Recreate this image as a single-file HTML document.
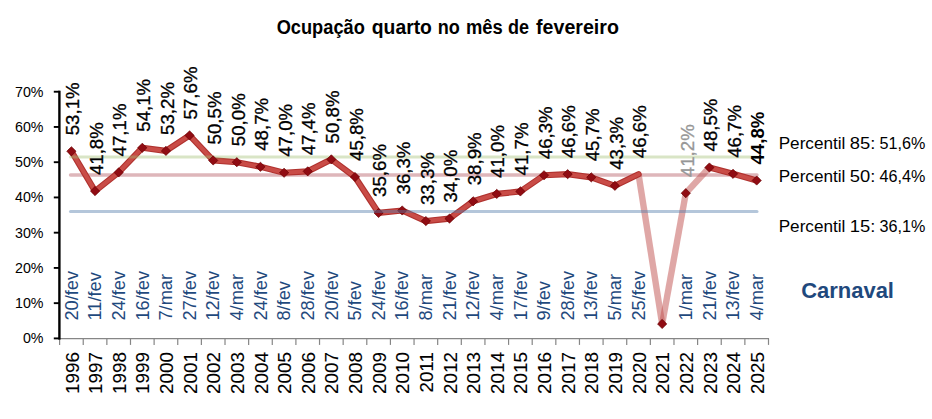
<!DOCTYPE html>
<html><head><meta charset="utf-8"><title>Ocupação quarto no mês de fevereiro</title>
<style>html,body{margin:0;padding:0;background:#fff;}body{width:932px;height:419px;overflow:hidden;}svg{display:block;} text{font-family:"Liberation Sans", sans-serif;}</style>
</head><body>
<svg width="932" height="419" viewBox="0 0 932 419">
<rect x="0" y="0" width="932" height="419" fill="#fff"/>
<text x="320.75" y="33.9" text-anchor="middle" font-size="19.4" font-weight="bold" fill="#000" textLength="88.10" lengthAdjust="spacingAndGlyphs">Ocupação</text>
<text x="401.85" y="33.9" text-anchor="middle" font-size="19.4" font-weight="bold" fill="#000" textLength="60.10" lengthAdjust="spacingAndGlyphs">quarto</text>
<text x="448.85" y="33.9" text-anchor="middle" font-size="19.4" font-weight="bold" fill="#000" textLength="22.10" lengthAdjust="spacingAndGlyphs">no</text>
<text x="484.40" y="33.9" text-anchor="middle" font-size="19.4" font-weight="bold" fill="#000" textLength="36.80" lengthAdjust="spacingAndGlyphs">mês</text>
<text x="518.40" y="33.9" text-anchor="middle" font-size="19.4" font-weight="bold" fill="#000" textLength="21.00" lengthAdjust="spacingAndGlyphs">de</text>
<text x="577.50" y="33.9" text-anchor="middle" font-size="19.4" font-weight="bold" fill="#000" textLength="82.80" lengthAdjust="spacingAndGlyphs">fevereiro</text>
<line x1="59.6" y1="338.60" x2="769.00" y2="338.60" stroke="#868686" stroke-width="1.2"/>
<line x1="59.60" y1="338.40" x2="59.60" y2="344.90" stroke="#868686" stroke-width="1.2"/>
<line x1="83.23" y1="338.40" x2="83.23" y2="344.90" stroke="#868686" stroke-width="1.2"/>
<line x1="106.86" y1="338.40" x2="106.86" y2="344.90" stroke="#868686" stroke-width="1.2"/>
<line x1="130.49" y1="338.40" x2="130.49" y2="344.90" stroke="#868686" stroke-width="1.2"/>
<line x1="154.12" y1="338.40" x2="154.12" y2="344.90" stroke="#868686" stroke-width="1.2"/>
<line x1="177.75" y1="338.40" x2="177.75" y2="344.90" stroke="#868686" stroke-width="1.2"/>
<line x1="201.38" y1="338.40" x2="201.38" y2="344.90" stroke="#868686" stroke-width="1.2"/>
<line x1="225.01" y1="338.40" x2="225.01" y2="344.90" stroke="#868686" stroke-width="1.2"/>
<line x1="248.64" y1="338.40" x2="248.64" y2="344.90" stroke="#868686" stroke-width="1.2"/>
<line x1="272.27" y1="338.40" x2="272.27" y2="344.90" stroke="#868686" stroke-width="1.2"/>
<line x1="295.90" y1="338.40" x2="295.90" y2="344.90" stroke="#868686" stroke-width="1.2"/>
<line x1="319.53" y1="338.40" x2="319.53" y2="344.90" stroke="#868686" stroke-width="1.2"/>
<line x1="343.16" y1="338.40" x2="343.16" y2="344.90" stroke="#868686" stroke-width="1.2"/>
<line x1="366.79" y1="338.40" x2="366.79" y2="344.90" stroke="#868686" stroke-width="1.2"/>
<line x1="390.42" y1="338.40" x2="390.42" y2="344.90" stroke="#868686" stroke-width="1.2"/>
<line x1="414.05" y1="338.40" x2="414.05" y2="344.90" stroke="#868686" stroke-width="1.2"/>
<line x1="437.68" y1="338.40" x2="437.68" y2="344.90" stroke="#868686" stroke-width="1.2"/>
<line x1="461.31" y1="338.40" x2="461.31" y2="344.90" stroke="#868686" stroke-width="1.2"/>
<line x1="484.94" y1="338.40" x2="484.94" y2="344.90" stroke="#868686" stroke-width="1.2"/>
<line x1="508.57" y1="338.40" x2="508.57" y2="344.90" stroke="#868686" stroke-width="1.2"/>
<line x1="532.20" y1="338.40" x2="532.20" y2="344.90" stroke="#868686" stroke-width="1.2"/>
<line x1="555.83" y1="338.40" x2="555.83" y2="344.90" stroke="#868686" stroke-width="1.2"/>
<line x1="579.46" y1="338.40" x2="579.46" y2="344.90" stroke="#868686" stroke-width="1.2"/>
<line x1="603.09" y1="338.40" x2="603.09" y2="344.90" stroke="#868686" stroke-width="1.2"/>
<line x1="626.72" y1="338.40" x2="626.72" y2="344.90" stroke="#868686" stroke-width="1.2"/>
<line x1="650.35" y1="338.40" x2="650.35" y2="344.90" stroke="#868686" stroke-width="1.2"/>
<line x1="673.98" y1="338.40" x2="673.98" y2="344.90" stroke="#868686" stroke-width="1.2"/>
<line x1="697.61" y1="338.40" x2="697.61" y2="344.90" stroke="#868686" stroke-width="1.2"/>
<line x1="721.24" y1="338.40" x2="721.24" y2="344.90" stroke="#868686" stroke-width="1.2"/>
<line x1="744.87" y1="338.40" x2="744.87" y2="344.90" stroke="#868686" stroke-width="1.2"/>
<line x1="768.50" y1="338.40" x2="768.50" y2="344.90" stroke="#868686" stroke-width="1.2"/>
<line x1="59.40" y1="90.7" x2="59.40" y2="339.6" stroke="#000" stroke-width="2.4"/>
<line x1="53.8" y1="338.40" x2="59.60" y2="338.40" stroke="#000" stroke-width="1.9"/>
<text transform="translate(43.5,343.40) scale(0.95,1)" text-anchor="end" font-size="15.0" fill="#000">0%</text>
<line x1="53.8" y1="303.16" x2="59.60" y2="303.16" stroke="#000" stroke-width="1.9"/>
<text transform="translate(43.5,308.16) scale(0.95,1)" text-anchor="end" font-size="15.0" fill="#000">10%</text>
<line x1="53.8" y1="267.92" x2="59.60" y2="267.92" stroke="#000" stroke-width="1.9"/>
<text transform="translate(43.5,272.92) scale(0.95,1)" text-anchor="end" font-size="15.0" fill="#000">20%</text>
<line x1="53.8" y1="232.68" x2="59.60" y2="232.68" stroke="#000" stroke-width="1.9"/>
<text transform="translate(43.5,237.68) scale(0.95,1)" text-anchor="end" font-size="15.0" fill="#000">30%</text>
<line x1="53.8" y1="197.44" x2="59.60" y2="197.44" stroke="#000" stroke-width="1.9"/>
<text transform="translate(43.5,202.44) scale(0.95,1)" text-anchor="end" font-size="15.0" fill="#000">40%</text>
<line x1="53.8" y1="162.20" x2="59.60" y2="162.20" stroke="#000" stroke-width="1.9"/>
<text transform="translate(43.5,167.20) scale(0.95,1)" text-anchor="end" font-size="15.0" fill="#000">50%</text>
<line x1="53.8" y1="126.96" x2="59.60" y2="126.96" stroke="#000" stroke-width="1.9"/>
<text transform="translate(43.5,131.96) scale(0.95,1)" text-anchor="end" font-size="15.0" fill="#000">60%</text>
<line x1="53.8" y1="91.72" x2="59.60" y2="91.72" stroke="#000" stroke-width="1.9"/>
<text transform="translate(43.5,96.72) scale(0.95,1)" text-anchor="end" font-size="15.0" fill="#000">70%</text>
<line x1="638.53" y1="174.18" x2="662.16" y2="323.95" stroke="rgba(192,80,77,0.5)" stroke-width="6.4"/>
<line x1="662.16" y1="323.95" x2="685.79" y2="193.21" stroke="rgba(192,80,77,0.5)" stroke-width="6.4"/>
<line x1="685.79" y1="193.21" x2="709.42" y2="167.49" stroke="rgba(192,80,77,0.5)" stroke-width="6.4"/>
<line x1="70.5" y1="174.99" x2="757.0" y2="174.99" stroke="rgba(176,82,90,0.42)" stroke-width="3.4" stroke-linecap="round"/>
<polyline points="71.42,151.28 95.05,191.10 118.67,172.42 142.31,147.75 165.94,150.92 189.56,135.42 213.19,160.44 236.82,162.20 260.45,166.78 284.08,172.77 307.71,171.36 331.35,159.38 354.98,177.00 378.61,212.95 402.24,210.48 425.87,221.05 449.50,218.58 473.12,201.32 496.75,193.92 520.38,191.45 544.01,175.24 567.64,174.18 591.27,177.35 614.90,185.81 638.53,174.18" fill="none" stroke="#b0322f" stroke-width="6.2" stroke-linejoin="round" stroke-linecap="round"/>
<polyline points="71.42,151.28 95.05,191.10 118.67,172.42 142.31,147.75 165.94,150.92 189.56,135.42 213.19,160.44 236.82,162.20 260.45,166.78 284.08,172.77 307.71,171.36 331.35,159.38 354.98,177.00 378.61,212.95 402.24,210.48 425.87,221.05 449.50,218.58 473.12,201.32 496.75,193.92 520.38,191.45 544.01,175.24 567.64,174.18 591.27,177.35 614.90,185.81 638.53,174.18" fill="none" stroke="#c94c47" stroke-width="4.0" stroke-linejoin="round" stroke-linecap="round"/>
<polyline points="709.42,167.49 733.05,173.83 756.68,180.52" fill="none" stroke="#b0322f" stroke-width="6.2" stroke-linejoin="round" stroke-linecap="round"/>
<polyline points="709.42,167.49 733.05,173.83 756.68,180.52" fill="none" stroke="#c94c47" stroke-width="4.0" stroke-linejoin="round" stroke-linecap="round"/>
<line x1="70.5" y1="156.91" x2="757.0" y2="156.91" stroke="rgba(160,190,112,0.4)" stroke-width="3.0" stroke-linecap="round"/>
<path d="M71.42 146.68L76.02 151.28L71.42 155.88L66.82 151.28Z" fill="#900c13" stroke="#680000" stroke-width="0.7"/>
<path d="M95.05 186.50L99.64 191.10L95.05 195.70L90.45 191.10Z" fill="#900c13" stroke="#680000" stroke-width="0.7"/>
<path d="M118.67 167.82L123.27 172.42L118.67 177.02L114.08 172.42Z" fill="#900c13" stroke="#680000" stroke-width="0.7"/>
<path d="M142.31 143.15L146.91 147.75L142.31 152.35L137.71 147.75Z" fill="#900c13" stroke="#680000" stroke-width="0.7"/>
<path d="M165.94 146.32L170.53 150.92L165.94 155.52L161.34 150.92Z" fill="#900c13" stroke="#680000" stroke-width="0.7"/>
<path d="M189.56 130.82L194.16 135.42L189.56 140.02L184.97 135.42Z" fill="#900c13" stroke="#680000" stroke-width="0.7"/>
<path d="M213.19 155.84L217.79 160.44L213.19 165.04L208.59 160.44Z" fill="#900c13" stroke="#680000" stroke-width="0.7"/>
<path d="M236.82 157.60L241.42 162.20L236.82 166.80L232.22 162.20Z" fill="#900c13" stroke="#680000" stroke-width="0.7"/>
<path d="M260.45 162.18L265.06 166.78L260.45 171.38L255.85 166.78Z" fill="#900c13" stroke="#680000" stroke-width="0.7"/>
<path d="M284.08 168.17L288.69 172.77L284.08 177.37L279.48 172.77Z" fill="#900c13" stroke="#680000" stroke-width="0.7"/>
<path d="M307.71 166.76L312.31 171.36L307.71 175.96L303.11 171.36Z" fill="#900c13" stroke="#680000" stroke-width="0.7"/>
<path d="M331.35 154.78L335.95 159.38L331.35 163.98L326.75 159.38Z" fill="#900c13" stroke="#680000" stroke-width="0.7"/>
<path d="M354.98 172.40L359.58 177.00L354.98 181.60L350.38 177.00Z" fill="#900c13" stroke="#680000" stroke-width="0.7"/>
<path d="M378.61 208.35L383.21 212.95L378.61 217.55L374.00 212.95Z" fill="#900c13" stroke="#680000" stroke-width="0.7"/>
<path d="M402.24 205.88L406.84 210.48L402.24 215.08L397.63 210.48Z" fill="#900c13" stroke="#680000" stroke-width="0.7"/>
<path d="M425.87 216.45L430.47 221.05L425.87 225.65L421.26 221.05Z" fill="#900c13" stroke="#680000" stroke-width="0.7"/>
<path d="M449.50 213.98L454.10 218.58L449.50 223.18L444.89 218.58Z" fill="#900c13" stroke="#680000" stroke-width="0.7"/>
<path d="M473.12 196.72L477.73 201.32L473.12 205.92L468.52 201.32Z" fill="#900c13" stroke="#680000" stroke-width="0.7"/>
<path d="M496.75 189.32L501.36 193.92L496.75 198.52L492.15 193.92Z" fill="#900c13" stroke="#680000" stroke-width="0.7"/>
<path d="M520.38 186.85L524.99 191.45L520.38 196.05L515.78 191.45Z" fill="#900c13" stroke="#680000" stroke-width="0.7"/>
<path d="M544.01 170.64L548.62 175.24L544.01 179.84L539.41 175.24Z" fill="#900c13" stroke="#680000" stroke-width="0.7"/>
<path d="M567.64 169.58L572.25 174.18L567.64 178.78L563.04 174.18Z" fill="#900c13" stroke="#680000" stroke-width="0.7"/>
<path d="M591.27 172.75L595.88 177.35L591.27 181.95L586.67 177.35Z" fill="#900c13" stroke="#680000" stroke-width="0.7"/>
<path d="M614.90 181.21L619.50 185.81L614.90 190.41L610.30 185.81Z" fill="#900c13" stroke="#680000" stroke-width="0.7"/>
<path d="M662.16 319.35L666.76 323.95L662.16 328.55L657.56 323.95Z" fill="#900c13" stroke="#680000" stroke-width="0.7"/>
<path d="M685.79 188.61L690.39 193.21L685.79 197.81L681.19 193.21Z" fill="#900c13" stroke="#680000" stroke-width="0.7"/>
<path d="M709.42 162.89L714.02 167.49L709.42 172.09L704.82 167.49Z" fill="#900c13" stroke="#680000" stroke-width="0.7"/>
<path d="M733.05 169.23L737.65 173.83L733.05 178.43L728.45 173.83Z" fill="#900c13" stroke="#680000" stroke-width="0.7"/>
<path d="M756.68 175.92L761.28 180.52L756.68 185.12L752.08 180.52Z" fill="#900c13" stroke="#680000" stroke-width="0.7"/>
<line x1="70.5" y1="211.48" x2="757.0" y2="211.48" stroke="rgba(84,126,170,0.44)" stroke-width="3" stroke-linecap="round"/>
<text transform="translate(79.12,135.28) rotate(-90) scale(1.01,1)" font-size="18.5" fill="#000" stroke="#000" stroke-width="0.3">53,1%</text>
<text transform="translate(102.75,175.10) rotate(-90) scale(1.01,1)" font-size="18.5" fill="#000" stroke="#000" stroke-width="0.3">41,8%</text>
<text transform="translate(126.38,156.42) rotate(-90) scale(1.01,1)" font-size="18.5" fill="#000" stroke="#000" stroke-width="0.3">47,1%</text>
<text transform="translate(150.00,131.75) rotate(-90) scale(1.01,1)" font-size="18.5" fill="#000" stroke="#000" stroke-width="0.3">54,1%</text>
<text transform="translate(173.63,134.92) rotate(-90) scale(1.01,1)" font-size="18.5" fill="#000" stroke="#000" stroke-width="0.3">53,2%</text>
<text transform="translate(197.26,119.42) rotate(-90) scale(1.01,1)" font-size="18.5" fill="#000" stroke="#000" stroke-width="0.3">57,6%</text>
<text transform="translate(220.89,144.44) rotate(-90) scale(1.01,1)" font-size="18.5" fill="#000" stroke="#000" stroke-width="0.3">50,5%</text>
<text transform="translate(244.52,146.20) rotate(-90) scale(1.01,1)" font-size="18.5" fill="#000" stroke="#000" stroke-width="0.3">50,0%</text>
<text transform="translate(268.15,150.78) rotate(-90) scale(1.01,1)" font-size="18.5" fill="#000" stroke="#000" stroke-width="0.3">48,7%</text>
<text transform="translate(291.78,156.77) rotate(-90) scale(1.01,1)" font-size="18.5" fill="#000" stroke="#000" stroke-width="0.3">47,0%</text>
<text transform="translate(315.41,155.36) rotate(-90) scale(1.01,1)" font-size="18.5" fill="#000" stroke="#000" stroke-width="0.3">47,4%</text>
<text transform="translate(339.05,143.38) rotate(-90) scale(1.01,1)" font-size="18.5" fill="#000" stroke="#000" stroke-width="0.3">50,8%</text>
<text transform="translate(362.68,161.00) rotate(-90) scale(1.01,1)" font-size="18.5" fill="#000" stroke="#000" stroke-width="0.3">45,8%</text>
<text transform="translate(386.31,196.95) rotate(-90) scale(1.01,1)" font-size="18.5" fill="#000" stroke="#000" stroke-width="0.3">35,6%</text>
<text transform="translate(409.94,194.48) rotate(-90) scale(1.01,1)" font-size="18.5" fill="#000" stroke="#000" stroke-width="0.3">36,3%</text>
<text transform="translate(433.56,205.05) rotate(-90) scale(1.01,1)" font-size="18.5" fill="#000" stroke="#000" stroke-width="0.3">33,3%</text>
<text transform="translate(457.19,202.58) rotate(-90) scale(1.01,1)" font-size="18.5" fill="#000" stroke="#000" stroke-width="0.3">34,0%</text>
<text transform="translate(480.82,185.32) rotate(-90) scale(1.01,1)" font-size="18.5" fill="#000" stroke="#000" stroke-width="0.3">38,9%</text>
<text transform="translate(504.45,177.92) rotate(-90) scale(1.01,1)" font-size="18.5" fill="#000" stroke="#000" stroke-width="0.3">41,0%</text>
<text transform="translate(528.09,175.45) rotate(-90) scale(1.01,1)" font-size="18.5" fill="#000" stroke="#000" stroke-width="0.3">41,7%</text>
<text transform="translate(551.72,159.24) rotate(-90) scale(1.01,1)" font-size="18.5" fill="#000" stroke="#000" stroke-width="0.3">46,3%</text>
<text transform="translate(575.35,158.18) rotate(-90) scale(1.01,1)" font-size="18.5" fill="#000" stroke="#000" stroke-width="0.3">46,6%</text>
<text transform="translate(598.98,161.35) rotate(-90) scale(1.01,1)" font-size="18.5" fill="#000" stroke="#000" stroke-width="0.3">45,7%</text>
<text transform="translate(622.61,169.81) rotate(-90) scale(1.01,1)" font-size="18.5" fill="#000" stroke="#000" stroke-width="0.3">43,3%</text>
<text transform="translate(646.24,158.18) rotate(-90) scale(1.01,1)" font-size="18.5" fill="#000" stroke="#000" stroke-width="0.3">46,6%</text>
<text transform="translate(693.50,177.21) rotate(-90) scale(1.01,1)" font-size="18.5" fill="#979797" stroke="#979797" stroke-width="0.3">41,2%</text>
<text transform="translate(717.12,151.49) rotate(-90) scale(1.01,1)" font-size="18.5" fill="#000" stroke="#000" stroke-width="0.3">48,5%</text>
<text transform="translate(740.75,157.83) rotate(-90) scale(1.01,1)" font-size="18.5" fill="#000" stroke="#000" stroke-width="0.3">46,7%</text>
<text transform="translate(764.38,164.52) rotate(-90) scale(1.01,1)" font-size="18.5" fill="#000" stroke="#000" stroke-width="0" font-weight="bold">44,8%</text>
<text transform="translate(77.62,320.5) rotate(-90) scale(1.023,1)" font-size="17.8" fill="#1f497d">20/fev</text>
<text transform="translate(101.25,320.5) rotate(-90) scale(1.023,1)" font-size="17.8" fill="#1f497d">11/fev</text>
<text transform="translate(124.88,320.5) rotate(-90) scale(1.023,1)" font-size="17.8" fill="#1f497d">24/fev</text>
<text transform="translate(148.50,320.5) rotate(-90) scale(1.023,1)" font-size="17.8" fill="#1f497d">16/fev</text>
<text transform="translate(172.13,320.5) rotate(-90) scale(1.023,1)" font-size="17.8" fill="#1f497d">7/mar</text>
<text transform="translate(195.76,320.5) rotate(-90) scale(1.023,1)" font-size="17.8" fill="#1f497d">27/fev</text>
<text transform="translate(219.39,320.5) rotate(-90) scale(1.023,1)" font-size="17.8" fill="#1f497d">12/fev</text>
<text transform="translate(243.02,320.5) rotate(-90) scale(1.023,1)" font-size="17.8" fill="#1f497d">4/mar</text>
<text transform="translate(266.65,320.5) rotate(-90) scale(1.023,1)" font-size="17.8" fill="#1f497d">24/fev</text>
<text transform="translate(290.28,320.5) rotate(-90) scale(1.023,1)" font-size="17.8" fill="#1f497d">8/fev</text>
<text transform="translate(313.91,320.5) rotate(-90) scale(1.023,1)" font-size="17.8" fill="#1f497d">28/fev</text>
<text transform="translate(337.55,320.5) rotate(-90) scale(1.023,1)" font-size="17.8" fill="#1f497d">20/fev</text>
<text transform="translate(361.18,320.5) rotate(-90) scale(1.023,1)" font-size="17.8" fill="#1f497d">5/fev</text>
<text transform="translate(384.81,320.5) rotate(-90) scale(1.023,1)" font-size="17.8" fill="#1f497d">24/fev</text>
<text transform="translate(408.44,320.5) rotate(-90) scale(1.023,1)" font-size="17.8" fill="#1f497d">16/fev</text>
<text transform="translate(432.06,320.5) rotate(-90) scale(1.023,1)" font-size="17.8" fill="#1f497d">8/mar</text>
<text transform="translate(455.69,320.5) rotate(-90) scale(1.023,1)" font-size="17.8" fill="#1f497d">21/fev</text>
<text transform="translate(479.32,320.5) rotate(-90) scale(1.023,1)" font-size="17.8" fill="#1f497d">12/fev</text>
<text transform="translate(502.95,320.5) rotate(-90) scale(1.023,1)" font-size="17.8" fill="#1f497d">4/mar</text>
<text transform="translate(526.59,320.5) rotate(-90) scale(1.023,1)" font-size="17.8" fill="#1f497d">17/fev</text>
<text transform="translate(550.22,320.5) rotate(-90) scale(1.023,1)" font-size="17.8" fill="#1f497d">9/fev</text>
<text transform="translate(573.85,320.5) rotate(-90) scale(1.023,1)" font-size="17.8" fill="#1f497d">28/fev</text>
<text transform="translate(597.48,320.5) rotate(-90) scale(1.023,1)" font-size="17.8" fill="#1f497d">13/fev</text>
<text transform="translate(621.11,320.5) rotate(-90) scale(1.023,1)" font-size="17.8" fill="#1f497d">5/mar</text>
<text transform="translate(644.74,320.5) rotate(-90) scale(1.023,1)" font-size="17.8" fill="#1f497d">25/fev</text>
<text transform="translate(692.00,320.5) rotate(-90) scale(1.023,1)" font-size="17.8" fill="#1f497d">1/mar</text>
<text transform="translate(715.62,320.5) rotate(-90) scale(1.023,1)" font-size="17.8" fill="#1f497d">21/fev</text>
<text transform="translate(739.25,320.5) rotate(-90) scale(1.023,1)" font-size="17.8" fill="#1f497d">13/fev</text>
<text transform="translate(762.88,320.5) rotate(-90) scale(1.023,1)" font-size="17.8" fill="#1f497d">4/mar</text>
<text transform="translate(78.52,352.1) rotate(-90) scale(1.012,1)" text-anchor="end" font-size="18.6" fill="#000" stroke="#000" stroke-width="0.1">1996</text>
<text transform="translate(102.14,352.1) rotate(-90) scale(1.012,1)" text-anchor="end" font-size="18.6" fill="#000" stroke="#000" stroke-width="0.1">1997</text>
<text transform="translate(125.77,352.1) rotate(-90) scale(1.012,1)" text-anchor="end" font-size="18.6" fill="#000" stroke="#000" stroke-width="0.1">1998</text>
<text transform="translate(149.41,352.1) rotate(-90) scale(1.012,1)" text-anchor="end" font-size="18.6" fill="#000" stroke="#000" stroke-width="0.1">1999</text>
<text transform="translate(173.03,352.1) rotate(-90) scale(1.012,1)" text-anchor="end" font-size="18.6" fill="#000" stroke="#000" stroke-width="0.1">2000</text>
<text transform="translate(196.66,352.1) rotate(-90) scale(1.012,1)" text-anchor="end" font-size="18.6" fill="#000" stroke="#000" stroke-width="0.1">2001</text>
<text transform="translate(220.29,352.1) rotate(-90) scale(1.012,1)" text-anchor="end" font-size="18.6" fill="#000" stroke="#000" stroke-width="0.1">2002</text>
<text transform="translate(243.92,352.1) rotate(-90) scale(1.012,1)" text-anchor="end" font-size="18.6" fill="#000" stroke="#000" stroke-width="0.1">2003</text>
<text transform="translate(267.56,352.1) rotate(-90) scale(1.012,1)" text-anchor="end" font-size="18.6" fill="#000" stroke="#000" stroke-width="0.1">2004</text>
<text transform="translate(291.19,352.1) rotate(-90) scale(1.012,1)" text-anchor="end" font-size="18.6" fill="#000" stroke="#000" stroke-width="0.1">2005</text>
<text transform="translate(314.81,352.1) rotate(-90) scale(1.012,1)" text-anchor="end" font-size="18.6" fill="#000" stroke="#000" stroke-width="0.1">2006</text>
<text transform="translate(338.45,352.1) rotate(-90) scale(1.012,1)" text-anchor="end" font-size="18.6" fill="#000" stroke="#000" stroke-width="0.1">2007</text>
<text transform="translate(362.08,352.1) rotate(-90) scale(1.012,1)" text-anchor="end" font-size="18.6" fill="#000" stroke="#000" stroke-width="0.1">2008</text>
<text transform="translate(385.71,352.1) rotate(-90) scale(1.012,1)" text-anchor="end" font-size="18.6" fill="#000" stroke="#000" stroke-width="0.1">2009</text>
<text transform="translate(409.34,352.1) rotate(-90) scale(1.012,1)" text-anchor="end" font-size="18.6" fill="#000" stroke="#000" stroke-width="0.1">2010</text>
<text transform="translate(432.97,352.1) rotate(-90) scale(1.012,1)" text-anchor="end" font-size="18.6" fill="#000" stroke="#000" stroke-width="0.1">2011</text>
<text transform="translate(456.60,352.1) rotate(-90) scale(1.012,1)" text-anchor="end" font-size="18.6" fill="#000" stroke="#000" stroke-width="0.1">2012</text>
<text transform="translate(480.23,352.1) rotate(-90) scale(1.012,1)" text-anchor="end" font-size="18.6" fill="#000" stroke="#000" stroke-width="0.1">2013</text>
<text transform="translate(503.86,352.1) rotate(-90) scale(1.012,1)" text-anchor="end" font-size="18.6" fill="#000" stroke="#000" stroke-width="0.1">2014</text>
<text transform="translate(527.49,352.1) rotate(-90) scale(1.012,1)" text-anchor="end" font-size="18.6" fill="#000" stroke="#000" stroke-width="0.1">2015</text>
<text transform="translate(551.12,352.1) rotate(-90) scale(1.012,1)" text-anchor="end" font-size="18.6" fill="#000" stroke="#000" stroke-width="0.1">2016</text>
<text transform="translate(574.75,352.1) rotate(-90) scale(1.012,1)" text-anchor="end" font-size="18.6" fill="#000" stroke="#000" stroke-width="0.1">2017</text>
<text transform="translate(598.38,352.1) rotate(-90) scale(1.012,1)" text-anchor="end" font-size="18.6" fill="#000" stroke="#000" stroke-width="0.1">2018</text>
<text transform="translate(622.00,352.1) rotate(-90) scale(1.012,1)" text-anchor="end" font-size="18.6" fill="#000" stroke="#000" stroke-width="0.1">2019</text>
<text transform="translate(645.63,352.1) rotate(-90) scale(1.012,1)" text-anchor="end" font-size="18.6" fill="#000" stroke="#000" stroke-width="0.1">2020</text>
<text transform="translate(669.26,352.1) rotate(-90) scale(1.012,1)" text-anchor="end" font-size="18.6" fill="#000" stroke="#000" stroke-width="0.1">2021</text>
<text transform="translate(692.89,352.1) rotate(-90) scale(1.012,1)" text-anchor="end" font-size="18.6" fill="#000" stroke="#000" stroke-width="0.1">2022</text>
<text transform="translate(716.52,352.1) rotate(-90) scale(1.012,1)" text-anchor="end" font-size="18.6" fill="#000" stroke="#000" stroke-width="0.1">2023</text>
<text transform="translate(740.15,352.1) rotate(-90) scale(1.012,1)" text-anchor="end" font-size="18.6" fill="#000" stroke="#000" stroke-width="0.1">2024</text>
<text transform="translate(763.78,352.1) rotate(-90) scale(1.012,1)" text-anchor="end" font-size="18.6" fill="#000" stroke="#000" stroke-width="0.1">2025</text>
<text x="812.05" y="148.5" text-anchor="middle" font-size="16" fill="#000" textLength="66.70" lengthAdjust="spacingAndGlyphs">Percentil</text>
<text x="862.55" y="148.5" text-anchor="middle" font-size="16" fill="#000" textLength="25.50" lengthAdjust="spacingAndGlyphs">85:</text>
<text x="902.50" y="148.5" text-anchor="middle" font-size="16" fill="#000" textLength="45.80" lengthAdjust="spacingAndGlyphs">51,6%</text>
<text x="812.05" y="181.5" text-anchor="middle" font-size="16" fill="#000" textLength="66.70" lengthAdjust="spacingAndGlyphs">Percentil</text>
<text x="862.55" y="181.5" text-anchor="middle" font-size="16" fill="#000" textLength="25.50" lengthAdjust="spacingAndGlyphs">50:</text>
<text x="902.50" y="181.5" text-anchor="middle" font-size="16" fill="#000" textLength="45.80" lengthAdjust="spacingAndGlyphs">46,4%</text>
<text x="812.05" y="231.9" text-anchor="middle" font-size="16" fill="#000" textLength="66.70" lengthAdjust="spacingAndGlyphs">Percentil</text>
<text x="862.55" y="231.9" text-anchor="middle" font-size="16" fill="#000" textLength="25.50" lengthAdjust="spacingAndGlyphs">15:</text>
<text x="902.50" y="231.9" text-anchor="middle" font-size="16" fill="#000" textLength="45.80" lengthAdjust="spacingAndGlyphs">36,1%</text>
<text x="801.2" y="297.5" font-size="21.8" font-weight="bold" fill="#1f497d" textLength="92.8" lengthAdjust="spacingAndGlyphs">Carnaval</text>
</svg>
</body></html>
